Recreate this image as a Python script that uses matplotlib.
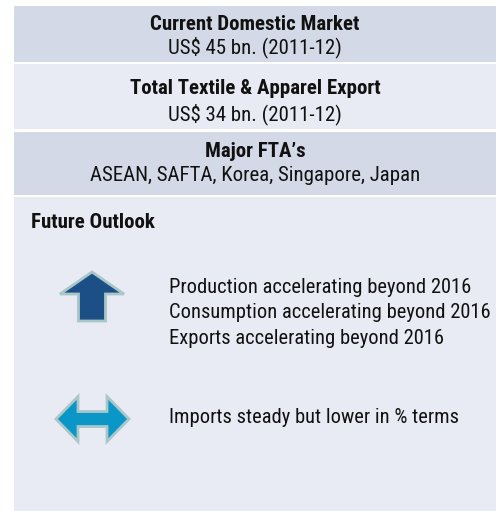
import matplotlib
matplotlib.use("Agg")
import matplotlib.pyplot as plt
from matplotlib.patches import Rectangle, Polygon

FONT = ["Roboto Condensed", "Archivo Narrow", "DejaVu Sans"]

# ── Content ───────────────────────────────────────────────────────────────────
BOX_TITLES = ["Current Domestic Market", "Total Textile & Apparel Export", "Major FTA\u2019s"]
BOX_VALUES = ["US$ 45 bn. (2011-12)", "US$ 34 bn. (2011-12)",
              "ASEAN, SAFTA, Korea, Singapore, Japan"]
OUTLOOK_TITLE = "Future Outlook"
UP_LINES = ["Production accelerating beyond 2016",
            "Consumption accelerating beyond 2016",
            "Exports accelerating beyond 2016"]
STEADY_LINES = ["Imports steady but lower in % terms"]

# ── Layout (pixels, y downwards) ──────────────────────────────────────────────
W, H = 496, 511
X0 = 14
BOX_Y = [(6, 62), (64, 129), (132, 195)]
BOX_BASELINES = [(30, 53), (94, 120), (157, 181)]
BOX_COLORS = ["#d3d9e6", "#e8ebf3", "#d3d9e6"]
OUTLOOK_Y = (197, 511)
OUTLOOK_COLOR = "#e8ebf3"
FS = 15
FS_BODY = 14.8
TXT = "#111111"

fig = plt.figure(figsize=(W / 100, H / 100), dpi=100)
ax = fig.add_axes([0, 0, 1, 1])
ax.set_xlim(0, W)
ax.set_ylim(H, 0)
ax.axis("off")

xc = (X0 + W) / 2
for (y0, y1), (b1, b2), col, title, val in zip(BOX_Y, BOX_BASELINES, BOX_COLORS,
                                                BOX_TITLES, BOX_VALUES):
    ax.add_patch(Rectangle((X0, y0), W - X0, y1 - y0, color=col, lw=0))
    ax.text(xc, b1, title, ha="center", va="baseline",
            fontsize=FS, fontweight="bold", family=FONT, color=TXT)
    ax.text(xc, b2, val, ha="center", va="baseline",
            fontsize=FS, family=FONT, color=TXT)

y0, y1 = OUTLOOK_Y
ax.add_patch(Rectangle((X0, y0), W - X0, y1 - y0, color=OUTLOOK_COLOR, lw=0))
ax.text(31, 228, OUTLOOK_TITLE, ha="left", va="baseline",
        fontsize=FS, fontweight="bold", family=FONT, color=TXT)


def up_arrow(cx, top, w, head_h, shaft_w, total_h, fc, ec):
    pts = [(cx, top), (cx + w / 2, top + head_h), (cx + shaft_w / 2, top + head_h),
           (cx + shaft_w / 2, top + total_h), (cx - shaft_w / 2, top + total_h),
           (cx - shaft_w / 2, top + head_h), (cx - w / 2, top + head_h)]
    ax.add_patch(Polygon(pts, closed=True, fc=fc, ec=ec, lw=2, joinstyle="miter"))


def lr_arrow(cy, left, right, head_w, head_h, shaft_h, fc, ec):
    pts = [(left, cy), (left + head_w, cy - head_h / 2), (left + head_w, cy - shaft_h / 2),
           (right - head_w, cy - shaft_h / 2), (right - head_w, cy - head_h / 2),
           (right, cy), (right - head_w, cy + head_h / 2), (right - head_w, cy + shaft_h / 2),
           (left + head_w, cy + shaft_h / 2), (left + head_w, cy + head_h / 2)]
    ax.add_patch(Polygon(pts, closed=True, fc=fc, ec=ec, lw=2, joinstyle="miter"))


up_arrow(92, 272, 64, 22, 27, 49, "#1b4f86", "#a9c6c9")
lr_arrow(419, 56, 129, 22, 45, 15, "#0a96c6", "#a9c6c9")

for i, line in enumerate(UP_LINES):
    ax.text(169, 293 + i * 25.5, line, ha="left", va="baseline",
            fontsize=FS_BODY, family=FONT, color=TXT)
for i, line in enumerate(STEADY_LINES):
    ax.text(169, 423 + i * 25.5, line, ha="left", va="baseline",
            fontsize=FS_BODY, family=FONT, color=TXT)

fig.savefig("out.png", dpi=100)
